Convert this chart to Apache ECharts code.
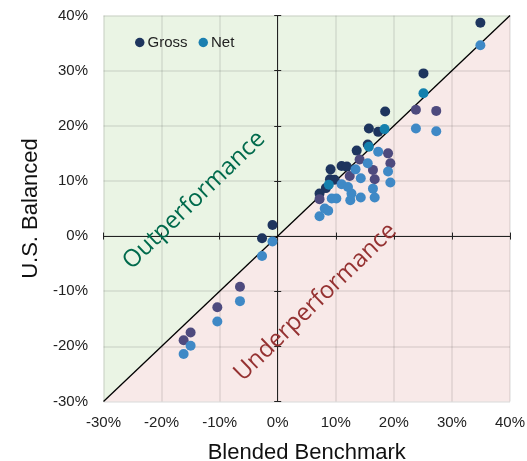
<!DOCTYPE html>
<html>
<head>
<meta charset="utf-8">
<script src="https://cdn.jsdelivr.net/npm/echarts@6/dist/echarts.min.js"></script>
<style>html,body{margin:0;padding:0;background:#fff}#c{width:527px;height:461px}</style>
</head>
<body>
<div id="c"></div>
<script>
// Axis range and ticks (percent)
var axisMin = -30, axisMax = 40, axisStep = 10;

// Gross returns: [benchmark %, portfolio %]
var gross = [
  [-16.2, -18.9], [-15.0, -17.5], [-10.4, -12.9], [-6.5, -9.2], [-2.7, -0.4], [-0.9, 2.0],
  [34.9, 38.7], [25.1, 29.5], [23.8, 22.9], [27.3, 22.7],
  [18.5, 22.6], [15.7, 19.5], [17.3, 18.9], [15.5, 16.6],
  [13.6, 15.5], [9.1, 12.1], [11.0, 12.7], [11.9, 12.6], [9.0, 10.3], [9.8, 10.2], [8.3, 8.7], [7.2, 7.7],
  [19.0, 15.0], [19.4, 13.2], [16.4, 12.0], [16.7, 10.3], [12.4, 10.9], [7.2, 6.7], [14.1, 13.9]
];

// Net returns: [benchmark %, portfolio %]
var net = [
  [-16.2, -21.4], [-15.0, -19.9], [-10.4, -15.5], [-6.5, -11.8], [-2.7, -3.6], [-0.9, -1.0],
  [34.9, 34.6], [25.1, 25.9], [23.8, 19.5], [27.3, 19.0],
  [18.4, 19.4], [15.7, 16.2], [8.8, 9.3],
  [17.3, 15.3], [15.5, 13.2], [13.4, 12.1], [19.0, 11.7], [19.4, 9.7], [14.3, 10.5], [16.4, 8.6],
  [16.7, 7.0], [14.3, 7.0], [12.5, 6.5], [12.7, 7.7], [11.0, 9.4], [12.1, 8.9], [10.1, 6.8],
  [9.3, 6.8], [8.1, 5.0], [8.7, 4.6], [7.2, 3.6]
];

// Region labels: [text, x %, y %, colour]
var regionLabels = [
  ['Outperformance', -14.4, 6.5, '#006a4c'],
  ['Underperformance', 6.5, -12.0, '#953232']
];

var seriesNames = ['Gross', 'Net'];

var chart = echarts.init(document.getElementById('c'), null, {renderer: 'canvas'});
var FONT = '"Liberation Sans", Arial, Helvetica, sans-serif';

var greenTri = [[axisMin, axisMin], [axisMin, axisMax], [axisMax, axisMax]];
var pinkTri = [[axisMin, axisMin], [axisMax, axisMin], [axisMax, axisMax]];

function triSeries(pts, fill) {
  return {
    type: 'custom', z: -1, silent: true, xAxisIndex: 0, yAxisIndex: 0,
    data: [[0, 0]],
    renderItem: function (params, api) {
      return {type: 'polygon', shape: {points: pts.map(function (p) { return api.coord(p); })}, style: {fill: fill}};
    }
  };
}

var splitStyle = {color: 'rgba(0,0,0,0.10)', width: 1.5};
var zeroLine = {color: '#222', width: 1};

function pct(v) { return v + '%'; }

function xAxisBase(extra) {
  return Object.assign({type: 'value', min: axisMin, max: axisMax, interval: axisStep, position: 'bottom'}, extra);
}
function yAxisBase(extra) {
  return Object.assign({type: 'value', min: axisMin, max: axisMax, interval: axisStep, position: 'left'}, extra);
}

var option = {
  animation: false,
  color: ['#1e355e', '#1a7fb0'],
  textStyle: {fontFamily: FONT},
  grid: {left: 103.5, right: 17, top: 15.5, bottom: 59.5, containLabel: false, outerBoundsMode: 'none'},
  legend: {
    data: [
      {name: seriesNames[0], itemStyle: {color: '#1e355e'}},
      {name: seriesNames[1], itemStyle: {color: '#1a7fb0'}}
    ],
    left: 130, top: 30, icon: 'circle', itemWidth: 9.5, itemHeight: 9.5, itemGap: 11,
    textStyle: {fontSize: 15, color: '#222', fontFamily: FONT, padding: [0, 0, 0, -2]}
  },
  xAxis: [
    xAxisBase({
      axisLine: {show: false, onZero: false}, axisTick: {show: false},
      axisLabel: {formatter: pct, fontSize: 15, color: '#222', margin: 14, fontFamily: FONT},
      splitLine: {show: true, lineStyle: splitStyle},
      name: 'Blended Benchmark', nameLocation: 'middle', nameGap: 40,
      nameTextStyle: {fontSize: 22, color: '#111', fontFamily: FONT}
    }),
    xAxisBase({
      axisLine: {show: true, onZero: true, onZeroAxisIndex: 0, lineStyle: zeroLine},
      axisTick: {show: true, length: 3.5, lineStyle: zeroLine},
      axisLabel: {show: false}, splitLine: {show: false}
    }),
    xAxisBase({
      axisLine: {show: false, onZero: true, onZeroAxisIndex: 0},
      axisTick: {show: true, inside: true, length: 3.5, lineStyle: zeroLine},
      axisLabel: {show: false}, splitLine: {show: false}
    })
  ],
  yAxis: [
    yAxisBase({
      axisLine: {show: false, onZero: false}, axisTick: {show: false},
      axisLabel: {formatter: pct, fontSize: 15, color: '#222', margin: 15.5, fontFamily: FONT},
      splitLine: {show: true, lineStyle: splitStyle},
      name: 'U.S. Balanced', nameLocation: 'middle', nameGap: 62,
      nameTextStyle: {fontSize: 22, color: '#111', fontFamily: FONT}
    }),
    yAxisBase({
      axisLine: {show: true, onZero: true, onZeroAxisIndex: 0, lineStyle: zeroLine},
      axisTick: {show: true, length: 3.5, lineStyle: zeroLine},
      axisLabel: {show: false}, splitLine: {show: false}
    }),
    yAxisBase({
      axisLine: {show: false, onZero: true, onZeroAxisIndex: 0},
      axisTick: {show: true, inside: true, length: 3.5, lineStyle: zeroLine},
      axisLabel: {show: false}, splitLine: {show: false}
    })
  ],
  series: [
    triSeries(greenTri, '#eaf4e4'),
    triSeries(pinkTri, '#f8e9e8'),
    {
      type: 'line', xAxisIndex: 0, yAxisIndex: 0, silent: true, symbol: 'none', z: 3,
      data: [[axisMin, axisMin], [axisMax, axisMax]],
      lineStyle: {color: '#000', width: 1.3}
    },
    {
      name: seriesNames[0], type: 'scatter', xAxisIndex: 0, yAxisIndex: 0, z: 4,
      symbol: 'circle', symbolSize: 10, data: gross,
      itemStyle: {opacity: 1, color: function (p) { return p.value[1] >= p.value[0] ? '#1e355e' : '#4e4a7e'; }}
    },
    {
      name: seriesNames[1], type: 'scatter', xAxisIndex: 0, yAxisIndex: 0, z: 5,
      symbol: 'circle', symbolSize: 10, data: net,
      itemStyle: {opacity: 1, color: function (p) { return p.value[1] >= p.value[0] ? '#1380ad' : '#3f89c6'; }}
    },
    {
      type: 'scatter', xAxisIndex: 0, yAxisIndex: 0, silent: true, z: 6,
      symbolSize: 0, itemStyle: {opacity: 1},
      data: regionLabels.map(function (r) {
        return {
          value: [r[1], r[2]],
          label: {show: true, formatter: r[0], color: r[3]}
        };
      }),
      label: {show: true, position: 'inside', rotate: 44, fontSize: 24, textBorderWidth: 0, opacity: 1,
        fontFamily: '"Open Sans", "Noto Sans", sans-serif'}
    }
  ]
};
chart.setOption(option);
</script>
</body>
</html>
